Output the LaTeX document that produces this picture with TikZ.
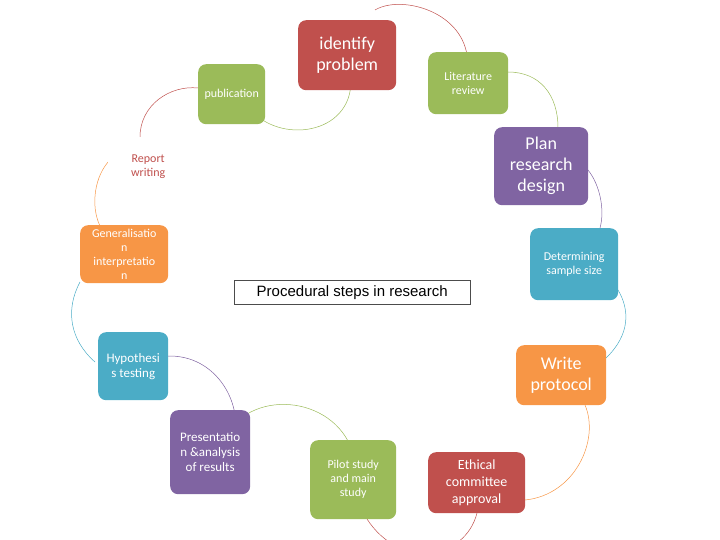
\documentclass[tikz,border=0pt]{standalone}
\usepackage{fontspec}
\setmainfont{Carlito}
\newfontfamily\arialf{Liberation Sans}
\definecolor{cred}{HTML}{C0504D}
\definecolor{cgreen}{HTML}{9BBB59}
\definecolor{cpurple}{HTML}{8064A2}
\definecolor{cblue}{HTML}{4BACC6}
\definecolor{corange}{HTML}{F79646}
\begin{document}
\begin{tikzpicture}[x=1pt,y=-1pt,
  box/.style={rounded corners=8pt,text=white,align=center,inner sep=1pt,font=\fontsize{12}{14}\selectfont},
  big/.style={font=\fontsize{18}{21}\selectfont},
  arc/.style={line width=0.5pt}]
\useasboundingbox (0,0) rectangle (720,540);
\clip (0,0) rectangle (720,540);
% arcs (drawn first, behind boxes)
\draw[arc,cred] (375,10) .. controls (400,-5) and (460,10) .. (467,55);
\draw[arc,cgreen] (508,72) .. controls (540,72) and (558,95) .. (558,128);
\draw[arc,cpurple] (588,170) .. controls (600,185) and (605,210) .. (600,228);
\draw[arc,cblue] (618,290) .. controls (630,310) and (630,335) .. (606,358);
\draw[arc,corange] (585,405) .. controls (600,440) and (575,495) .. (525,500);
\draw[arc,cred] (477,513) .. controls (465,560) and (400,570) .. (367,519);
\draw[arc,cgreen] (355,462) .. controls (345,400) and (260,385) .. (228,432);
\draw[arc,cpurple] (168,356) .. controls (215,355) and (240,400) .. (235,432);
\draw[arc,cblue] (95,362) .. controls (70,340) and (65,310) .. (80,282);
\draw[arc,corange] (100,226) .. controls (90,205) and (95,175) .. (110,160);
\draw[arc,cred] (140,137) .. controls (140,105) and (170,85) .. (198,88);
\draw[arc,cgreen] (256,115) .. controls (290,145) and (360,130) .. (350,70);
% boxes
\node[box,big,fill=cred,minimum width=98pt,minimum height=70pt,anchor=north west] (id) at (298,20) {identify\\problem};
\node[box,fill=cgreen,minimum width=80pt,minimum height=62pt,anchor=north west] (lit) at (428,52) {Literature\\review};
\node[box,fill=cgreen,minimum width=67pt,minimum height=60pt,anchor=north west] (pub) at (198,64) {publication};
\node[box,big,fill=cpurple,minimum width=94pt,minimum height=78pt,anchor=north west] (plan) at (494,127) {Plan\\research\\design};
\node[box,fill=white,text=cred,minimum width=80pt,minimum height=58pt,anchor=north west] (rep) at (108,137) {Report\\writing};
\node[box,fill=corange,minimum width=88pt,minimum height=58pt,anchor=north west] (gen) at (80,225) {Generalisatio\\n\\interpretatio\\n};
\node[box,fill=cblue,minimum width=88pt,minimum height=72pt,anchor=north west] (det) at (530,228) {Determining\\sample size};
\node[draw=black!70,fill=white,minimum width=236pt,minimum height=24pt,anchor=north west,font=\arialf\fontsize{15}{17}\selectfont,inner sep=1pt] (title) at (234,280) {Procedural steps in research};
\node[box,fill=cblue,font=\fontsize{13}{15}\selectfont,minimum width=70pt,minimum height=68pt,anchor=north west] (hyp) at (98,332) {Hypothesi\\s testing};
\node[box,big,fill=corange,minimum width=90pt,minimum height=60pt,anchor=north west] (wp) at (516,345) {Write\\protocol};
\node[box,fill=cpurple,font=\fontsize{13}{15}\selectfont,minimum width=80pt,minimum height=84pt,anchor=north west] (pres) at (170,410) {Presentatio\\n \&analysis\\of results};
\node[box,fill=cgreen,minimum width=86pt,minimum height=79pt,anchor=north west] (pil) at (310,440) {Pilot study\\and main\\study};
\node[box,fill=cred,font=\fontsize{14}{17}\selectfont,minimum width=97pt,minimum height=61pt,anchor=north west] (eth) at (428,452) {Ethical\\committee\\approval};
\end{tikzpicture}
\end{document}
